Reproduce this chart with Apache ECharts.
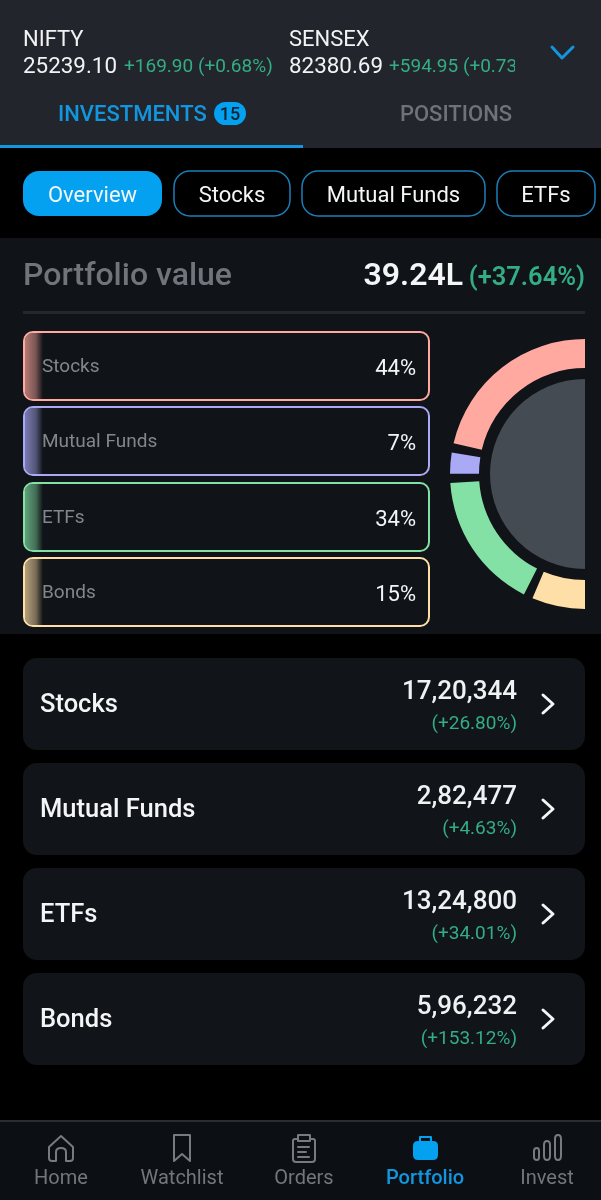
<!DOCTYPE html>
<html>
<head>
<meta charset="utf-8">
<style>html,body{margin:0;padding:0;background:#000}#main{width:601px;height:1200px}</style>
<script src="https://cdn.jsdelivr.net/npm/echarts@6/dist/echarts.min.js"></script>
</head>
<body>
<div id="main"></div>
<script>
// donut data
var allocationNames = ['Stocks', 'Mutual Funds', 'ETFs', 'Bonds'];
var allocationPct = [44, 7, 34, 15];
var allocationColors = ['#ffa9a1', '#a9a9f6', '#83e1a6', '#ffdfa8'];

// holdings rows
var holdingValues = ['17,20,344', '2,82,477', '13,24,800', '5,96,232'];
var holdingChanges = ['(+26.80%)', '(+4.63%)', '(+34.01%)', '(+153.12%)'];

var navLabels = ['Home', 'Watchlist', 'Orders', 'Portfolio', 'Invest'];
var navCenters = [61, 182, 304, 425, 547];
var pills = [['Overview', 23, 162], ['Stocks', 174, 290], ['Mutual Funds', 302, 485], ['ETFs', 497, 595]];

var BLUE = '#03a1f0', TABBLUE = '#1196df', GREEN = '#33ad83', GREY = '#70757c', PANEL = '#101317';
var FONT = 'Roboto, sans-serif';
var els = [];
var pathCount = 0;

function rect(x, y, w, h, fill, r, stroke, lw, z) {
    els.push({type: 'rect', z: z || 0, silent: true,
        shape: {x: x, y: y, width: w, height: h, r: r || 0},
        style: {fill: fill, stroke: stroke || null, lineWidth: lw || 0}});
}
function text(x, y, str, fill, size, weight, align, z) {
    // canvas middle sits about 2px above the visual middle of the glyphs
    els.push({type: 'text', z: z || 20, silent: true,
        style: {x: x, y: y + 2, text: str, fill: fill, textAlign: align || 'left', textVerticalAlign: 'middle',
            font: (weight || 400) + ' ' + size + 'px ' + FONT}});
}
// graphic has no plain path type, so each svg path gets registered as a shape
function path(d, stroke, lw, fill, z) {
    var name = 'iconPath' + (pathCount++);
    echarts.graphic.registerShape(name, echarts.graphic.extendPath(d, {}));
    els.push({type: name, z: z || 20, silent: true,
        style: {fill: fill || 'none', stroke: stroke || 'none', lineWidth: lw || 0, lineCap: 'round', lineJoin: 'round'}});
}

// top header
rect(0, 0, 601, 148, '#22252b');
text(23, 38, 'NIFTY', '#f2f3f4', 22);
text(23, 65, '25239.10', '#f2f3f4', 22.4);
text(124, 65, '+169.90 (+0.68%)', GREEN, 19);
text(289, 38, 'SENSEX', '#f2f3f4', 22);
text(289, 65, '82380.69', '#f2f3f4', 22.4);
text(389, 65, '+594.95 (+0.73%)', GREEN, 19);
rect(515, 50, 40, 30, '#22252b', 0, null, 0, 21);
path('M552 47 L562 58 L573 47', TABBLUE, 3, null, 22);
text(58, 113, 'INVESTMENTS', TABBLUE, 22, 500);
rect(214, 102, 32, 23, BLUE, 11.5);
text(230, 113, '15', '#0b2433', 18, 500, 'center');
text(456, 113, 'POSITIONS', '#6f7379', 22, 500, 'center');
rect(0, 145, 303, 3, TABBLUE);

// filter pills
pills.forEach(function (p, i) {
    if (i === 0) rect(p[1], 171, p[2] - p[1], 45, BLUE, 16);
    else rect(p[1], 171, p[2] - p[1], 45, '#000', 16, '#1b7fb9', 1.5);
    text((p[1] + p[2]) / 2, 194, p[0], '#f4f6f7', 22, 400, 'center');
});

// portfolio panel
rect(0, 238, 601, 396, PANEL);
text(23, 275, 'Portfolio value', GREY, 32, 500);
text(463, 275, '39.24L', '#f4f5f6', 32, 600, 'right');
text(585, 277, '(+37.64%)', GREEN, 25.5, 600, 'right');
rect(23, 311, 562, 3, '#24272c');

// legend cards
var cardTops = [332, 407, 483, 558];
allocationNames.forEach(function (name, i) {
    var y = cardTops[i], c = allocationColors[i];
    rect(24, y, 405, 68, PANEL, 9, c, 2, 1);
    rect(25, y + 1, 18, 66, {type: 'linear', x: 0, y: 0, x2: 1, y2: 0, colorStops: [
        {offset: 0, color: c + 'b0'}, {offset: 0.6, color: c + '70'}, {offset: 1, color: c + '00'}]}, [8, 0, 0, 8], null, 0, 1);
    text(42, y + 33, name, '#83878c', 19);
    text(416, y + 35, allocationPct[i] + '%', '#f4f5f6', 22, 400, 'right');
});

// cover to clip the donut at the panel's margin
rect(585, 330, 16, 290, PANEL, 0, null, 0, 10);

// holding rows
allocationNames.forEach(function (name, i) {
    var y = 658 + i * 105;
    rect(23, y, 562, 92, '#111418', 14);
    text(40, y + 46, name, '#f4f5f6', 25.5, 500);
    text(517, y + 32, holdingValues[i], '#f0f1f3', 26, 500, 'right');
    text(517, y + 64, holdingChanges[i], GREEN, 19, 400, 'right');
    path('M543 ' + (y + 37) + ' L553 ' + (y + 46) + ' L543 ' + (y + 55), '#f4f5f6', 3);
});

// bottom nav
rect(0, 1121, 601, 79, '#0c0f13');
rect(0, 1120, 601, 2, '#2a2c30');
navLabels.forEach(function (label, i) {
    text(navCenters[i], 1177, label, i === 3 ? TABBLUE : '#73777c', 20, i === 3 ? 500 : 400, 'center');
});
var ICON = '#777a7f';
path('M49 1147 L61 1136 L73 1147 L73 1158 Q73 1161 70 1161 L66 1161 L66 1152 Q66 1148 61 1148 Q56 1148 56 1152 L56 1161 L52 1161 Q49 1161 49 1158 Z', ICON, 2);
path('M174 1135 L190 1135 L190 1161 L182 1154 L174 1161 Z', ICON, 2);
path('M297 1139 L295 1139 Q293 1139 293 1141 L293 1159 Q293 1162 296 1162 L312 1162 Q315 1162 315 1159 L315 1141 Q315 1139 313 1139 L311 1139 M298 1135 L310 1135 L310 1141 L298 1141 Z M298 1147 L309 1147 M298 1152 L306 1152 M298 1157 L309 1157', ICON, 2);
path('M413 1146 Q413 1141 418 1141 L433 1141 Q438 1141 438 1146 L438 1155 Q438 1160 433 1160 L418 1160 Q413 1160 413 1155 Z', null, 0, BLUE);
path('M420 1141 L420 1137 L431 1137 L431 1141', BLUE, 2);
path('M534 1151 Q534 1148 537 1148 Q539 1148 539 1151 L539 1157 Q539 1160 537 1160 Q534 1160 534 1157 Z M544 1145 Q544 1141 547 1141 Q550 1141 550 1145 L550 1156 Q550 1160 547 1160 Q544 1160 544 1156 Z M555 1139 Q555 1135 558 1135 Q561 1135 561 1139 L561 1156 Q561 1160 558 1160 Q555 1160 555 1156 Z', ICON, 2);

var chart = echarts.init(document.getElementById('main'));
chart.setOption({
    backgroundColor: '#000',
    animation: false,
    graphic: {elements: els},
    series: [
        {
            type: 'pie', z: 5, silent: true,
            center: [585, 474], radius: [106, 135],
            // runs a little past the half circle, the cover rect cuts it off
            startAngle: 87, endAngle: 273, clockwise: false, padAngle: 4,
            label: {show: false}, labelLine: {show: false},
            data: allocationNames.map(function (name, i) {
                return {name: name, value: allocationPct[i], itemStyle: {color: allocationColors[i]}};
            })
        },
        {
            type: 'pie', z: 5, silent: true,
            center: [585, 474], radius: [0, 95],
            label: {show: false}, labelLine: {show: false},
            data: [{name: 'Total', value: 1, itemStyle: {color: '#454b52'}}]
        }
    ]
});
</script>
</body>
</html>
